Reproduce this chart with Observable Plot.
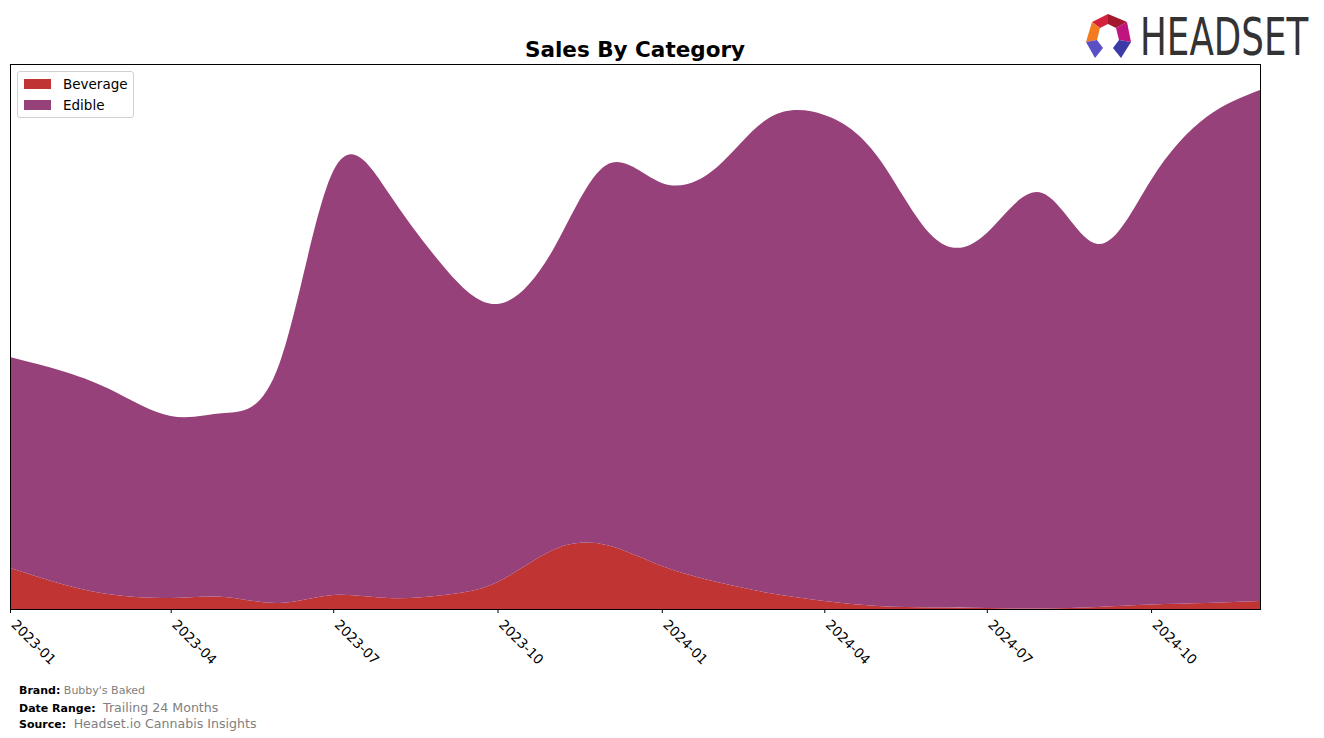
<!DOCTYPE html>
<html>
<head>
<meta charset="utf-8">
<script src="https://cdn.jsdelivr.net/npm/d3@7"></script>
<script src="https://cdn.jsdelivr.net/npm/@observablehq/plot@0.6"></script>
<style>
  html, body { margin: 0; padding: 0; background: #fff; }
  body { width: 1324px; height: 738px; position: relative; overflow: hidden; font-family: "DejaVu Sans", sans-serif; }
  #chart { position: absolute; left: 0; top: 0; }
  #title { position: absolute; left: 635px; top: 37px; transform: translateX(-50%); white-space: nowrap; font-weight: bold; font-size: 21.5px; line-height: 26px; }
  #legend { position: absolute; left: 17px; top: 71px; width: 115px; height: 45px; border: 1px solid #d0d0d0; border-radius: 3px; background: rgba(255,255,255,0.85); font-size: 13.5px; }
  .item { position: absolute; left: 6px; height: 16px; display: flex; align-items: center; }
  .sw { width: 27px; height: 10px; margin-right: 12px; }
  #footer { position: absolute; left: 19px; top: 683px; font-size: 11px; line-height: 16px; white-space: nowrap; }
  #footer b { color: #000; }
  #footer .g { color: #808080; }
  #logo { position: absolute; left: 0; top: 0; }
</style>
</head>
<body>
<div id="chart"></div>
<div id="title">Sales By Category</div>
<div id="legend"></div>
<div id="footer">
  <div><b>Brand:</b> <span class="g" style="font-size:11px">Bubby's Baked</span></div>
  <div style="margin-top:1px"><b>Date Range:</b> <span class="g" style="font-size:12.6px">&nbsp;Trailing 24 Months</span></div>
  <div style="margin-top:-1px"><b>Source:</b> <span class="g" style="font-size:12.6px">&nbsp;Headset.io Cannabis Insights</span></div>
</div>
<svg id="logo" width="1324" height="70">
  <polygon points="1092,22 1108,14 1108,24 1100,28" fill="#d4213d"/>
  <polygon points="1108,14 1127,22 1116,28 1108,24" fill="#a3182f"/>
  <polygon points="1127,22 1131,42 1119,40 1116,28" fill="#c0147e"/>
  <polygon points="1092,22 1086,42 1097,40 1100,28" fill="#f47a20"/>
  <polygon points="1086,42 1097,40 1103,48 1095,58" fill="#5a4fc4"/>
  <polygon points="1131,42 1119,40 1113,48 1121,58" fill="#3b3aa6"/>
  <text transform="translate(1140,55) scale(0.70,1)" x="0" y="0" font-family="DejaVu Sans" font-size="51" fill="#333">HEADSET</text>
</svg>
<script>
const months = ["2023-01","2023-02","2023-03","2023-04","2023-05","2023-06","2023-07","2023-08","2023-09","2023-10","2023-11","2023-12",
                "2024-01","2024-02","2024-03","2024-04","2024-05","2024-06","2024-07","2024-08","2024-09","2024-10","2024-11","2024-12"];
const categories = ["Beverage", "Edible"];
const colors = ["#c13434", "#964179"];
const beverage = [41, 24, 14, 11, 12, 6, 14, 11, 14, 27, 59, 64, 43, 27, 16, 8, 3, 1.5, 1, 0.5, 2, 4.5, 6, 8];
const edible   = [211, 213, 203, 182, 184, 240, 424, 405, 328, 278, 300, 380, 383, 415, 475, 486, 449, 370.5, 375, 415.5, 363, 424.5, 486, 511];
const tickMonths = ["2023-01","2023-04","2023-07","2023-10","2024-01","2024-04","2024-07","2024-10"];

const series = { Beverage: beverage, Edible: edible };
const data = months.flatMap((m, i) => categories.map(c => ({ date: new Date(m + "-01T00:00:00Z"), category: c, value: series[c][i] })));
const maxTotal = d3.max(months, (m, i) => beverage[i] + edible[i]);
const tickDates = tickMonths.map(m => new Date(m + "-01T00:00:00Z"));

const chart = Plot.plot({
  width: 1324,
  height: 680,
  marginLeft: 10,
  marginRight: 64,
  marginTop: 64,
  marginBottom: 71,
  style: { fontFamily: "DejaVu Sans, sans-serif", fontSize: "13.5px", background: "transparent", color: "#000" },
  x: { type: "utc", domain: [new Date("2023-01-01T00:00:00Z"), new Date("2024-12-01T00:00:00Z")] },
  y: { domain: [0, maxTotal * 1.05], axis: null },
  color: { domain: categories, range: colors },
  marks: [
    Plot.areaY(data, { x: "date", y: "value", fill: "category", z: "category", order: categories, curve: "natural" }),
    Plot.frame({ stroke: "black", strokeWidth: 1 }),
    Plot.axisX(tickDates, { tickFormat: () => "", tickSize: 4, label: null, stroke: "black" }),
    Plot.axisX(tickDates, {
      tickFormat: d3.utcFormat("%Y-%m"), tickRotate: 45, tickSize: 0, tickPadding: 13, dx: 3,
      fontSize: 13.5, label: null, fill: "black"
    })
  ]
});
document.getElementById("chart").appendChild(chart);

const legend = document.getElementById("legend");
categories.forEach((c, i) => {
  const it = document.createElement("div");
  it.className = "item";
  it.style.top = (4 + i * 21) + "px";
  it.innerHTML = `<span class="sw" style="background:${colors[i]}"></span><span>${c}</span>`;
  legend.appendChild(it);
});
</script>
</body>
</html>
